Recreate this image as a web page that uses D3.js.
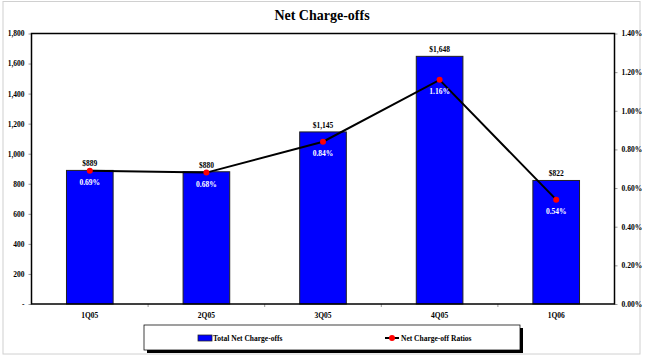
<!DOCTYPE html>
<html><head><meta charset="utf-8">
<script src="https://cdn.jsdelivr.net/npm/d3@7"></script>
<style>body{margin:0;background:#fff}svg{display:block}text{font-family:"Liberation Serif","Times New Roman",serif;font-weight:bold}</style>
</head><body><svg id="c" width="645" height="357"></svg>
<script>
const categories = ["1Q05","2Q05","3Q05","4Q05","1Q06"];
const chargeOffs = [889, 880, 1145, 1648, 822];
const ratios = [0.69, 0.68, 0.84, 1.16, 0.54];
const leftTicks = [0,200,400,600,800,1000,1200,1400,1600,1800];
const rightTicks = [0,0.2,0.4,0.6,0.8,1.0,1.2,1.4];

const svg = d3.select("#c");
const L = 31.5, R = 614.5, T = 33.5, B = 304;
svg.append("rect").attr("x",3).attr("y",1.5).attr("width",637).attr("height",352.5).attr("fill","none").attr("stroke","#d0d0d0");

const x = d3.scaleBand().domain(categories).range([L,R]).paddingInner(0.6).paddingOuter(0.3);
const xb = d3.scaleBand().domain(categories).range([L,R]);
const yL = d3.scaleLinear().domain([0,1800]).range([B,T]);
const yR = d3.scaleLinear().domain([0,1.4]).range([B,T]);

svg.append("text").attr("x",322).attr("y",20).attr("text-anchor","middle").attr("font-size",14).text("Net Charge-offs");

// left axis
const la = svg.append("g").attr("transform",`translate(${L},0)`)
  .call(d3.axisLeft(yL).tickValues(leftTicks).tickSize(3).tickPadding(4).tickFormat(d=> d===0?"-":d3.format(",")(d)));
la.select(".domain").remove();
la.selectAll("line").attr("stroke","#999");
la.selectAll("text").attr("font-size",7.5).attr("font-family",'"Liberation Serif",serif').attr("font-weight","bold").attr("fill","#000");

const ra = svg.append("g").attr("transform",`translate(${R},0)`)
  .call(d3.axisRight(yR).tickValues(rightTicks).tickSize(3).tickPadding(4).tickFormat(d=>d3.format(".2f")(d)+"%"));
ra.select(".domain").remove();
ra.selectAll("line").attr("stroke","#999");
ra.selectAll("text").attr("font-size",7.5).attr("font-family",'"Liberation Serif",serif').attr("font-weight","bold").attr("fill","#000");

// bottom axis labels
const ba = svg.append("g").attr("transform",`translate(0,${B})`)
  .call(d3.axisBottom(xb).tickSize(0).tickPadding(9));
ba.select(".domain").remove();
ba.selectAll("text").attr("font-size",7.5).attr("font-family",'"Liberation Serif",serif').attr("font-weight","bold").attr("fill","#000");
// tick marks at band boundaries
svg.append("g").selectAll("line").data(categories.slice(1)).join("line")
  .attr("x1",d=>xb(d)).attr("x2",d=>xb(d)).attr("y1",B).attr("y2",B+3).attr("stroke","#999");

// bars
svg.append("g").selectAll("rect").data(categories).join("rect")
  .attr("x",d=>x(d)).attr("width",x.bandwidth())
  .attr("y",(d,i)=>yL(chargeOffs[i])).attr("height",(d,i)=>B-yL(chargeOffs[i]))
  .attr("fill","#0000ff").attr("stroke","#222").attr("stroke-width",1);

// plot frame
svg.append("rect").attr("x",L).attr("y",T).attr("width",R-L).attr("height",B-T).attr("fill","none").attr("stroke","#000").attr("stroke-width",1.5);

// bar value labels
svg.append("g").selectAll("text").data(categories).join("text")
  .attr("x",d=>x(d)+x.bandwidth()/2).attr("y",(d,i)=>yL(chargeOffs[i])-4)
  .attr("text-anchor","middle").attr("font-size",7.5).text((d,i)=>"$"+d3.format(",")(chargeOffs[i]));

// line
const line = d3.line().x((d,i)=>xb(categories[i])+xb.bandwidth()/2).y(d=>yR(d));
svg.append("path").datum(ratios).attr("d",line).attr("fill","none").attr("stroke","#000").attr("stroke-width",2);
svg.append("g").selectAll("circle").data(ratios).join("circle")
  .attr("cx",(d,i)=>xb(categories[i])+xb.bandwidth()/2).attr("cy",d=>yR(d)).attr("r",3).attr("fill","#ff0000");
svg.append("g").selectAll("text").data(ratios).join("text")
  .attr("x",(d,i)=>xb(categories[i])+xb.bandwidth()/2).attr("y",d=>yR(d)+14)
  .attr("text-anchor","middle").attr("font-size",7.5).attr("fill","#fff").text(d=>d3.format(".2f")(d)+"%");

// legend
const lg = svg.append("g");
lg.append("rect").attr("x",147).attr("y",328).attr("width",376).attr("height",25).attr("fill","#000");
lg.append("rect").attr("x",144).attr("y",325).attr("width",376).attr("height",25).attr("fill","#fff").attr("stroke","#000").attr("stroke-width",0.75);
lg.append("rect").attr("x",198).attr("y",335).attr("width",14).attr("height",6).attr("fill","#0000ff").attr("stroke","#222").attr("stroke-width",0.75);
lg.append("text").attr("x",213).attr("y",341).attr("font-size",7.5).text("Total Net Charge-offs");
lg.append("line").attr("x1",385).attr("x2",399).attr("y1",338).attr("y2",338).attr("stroke","#000").attr("stroke-width",2);
lg.append("circle").attr("cx",392).attr("cy",338).attr("r",3).attr("fill","#ff0000");
lg.append("text").attr("x",401).attr("y",341).attr("font-size",7.5).text("Net Charge-off Ratios");
</script></body></html>
